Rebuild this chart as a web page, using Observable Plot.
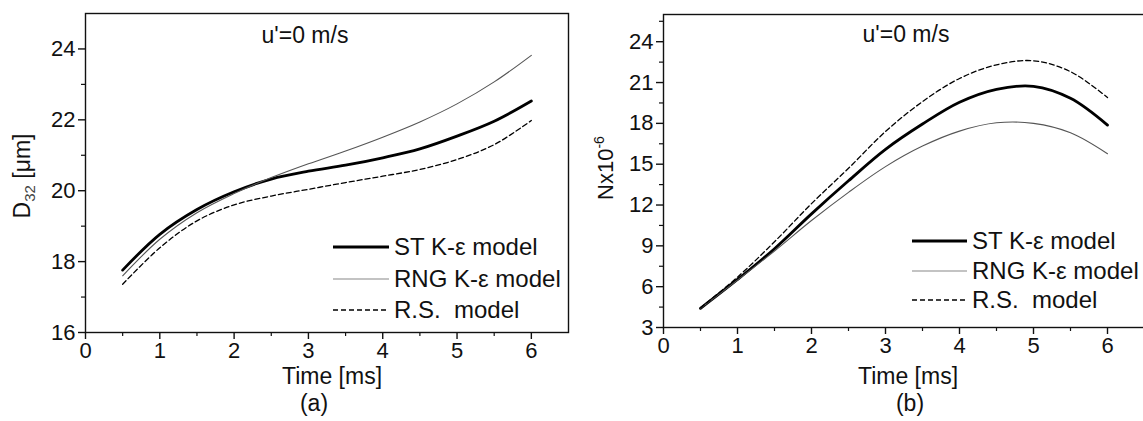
<!DOCTYPE html>
<html><head><meta charset="utf-8">
<script src="https://cdn.jsdelivr.net/npm/d3@7"></script>
<script src="https://cdn.jsdelivr.net/npm/@observablehq/plot@0.6"></script>
<style>
html,body{margin:0;padding:0;background:#fff;overflow:hidden;width:1143px;height:421px}
#wrap{position:relative;width:1143px;height:421px;overflow:hidden}
#wrap svg{position:absolute;top:0}
</style></head><body><div id="wrap"></div>
<script>
// ---- data ----
const timeMs = [0.5, 1, 1.5, 2, 2.5, 3, 3.5, 4, 4.5, 5, 5.5, 6];
// panel (a): D32 [um]
const d32ST  = [17.76, 18.77, 19.47, 19.97, 20.33, 20.55, 20.72, 20.93, 21.18, 21.54, 21.96, 22.53];
const d32RNG = [17.60, 18.63, 19.38, 19.92, 20.37, 20.76, 21.12, 21.51, 21.94, 22.45, 23.07, 23.82];
const d32RS  = [17.36, 18.39, 19.15, 19.60, 19.85, 20.04, 20.23, 20.41, 20.60, 20.88, 21.30, 21.98];
// panel (b): N x 10^-6
const nST  = [4.41, 6.53, 8.79, 11.35, 13.78, 16.09, 17.95, 19.55, 20.50, 20.72, 19.84, 17.87];
const nRNG = [4.41, 6.48, 8.62, 10.86, 12.93, 14.82, 16.33, 17.43, 18.04, 18.00, 17.31, 15.77];
const nRS  = [4.45, 6.70, 9.30, 12.10, 14.70, 17.40, 19.60, 21.30, 22.30, 22.60, 21.80, 19.90];

const modelNames = ["ST K-\u03b5 model", "RNG K-\u03b5 model", "R.S.  model"];
const xMajorTicks = [0, 1, 2, 3, 4, 5, 6];
const xMinorTicks = [0.5, 1.5, 2.5, 3.5, 4.5, 5.5];
const yTicksA = [16, 18, 20, 22, 24];
const yMinorA = [17, 19, 21, 23];
const yTicksB = [3, 6, 9, 12, 15, 18, 21, 24];
const yMinorB = [4.5, 7.5, 10.5, 13.5, 16.5, 19.5, 22.5, 25.5];

const FONT = "'Liberation Sans', Arial, Helvetica, sans-serif";
const INK = "#111";
const styles = [
  {stroke: "#000", strokeWidth: 2.8},
  {stroke: "#555", strokeWidth: 1.1},
  {stroke: "#000", strokeWidth: 1.3, strokeDasharray: "5,3"}
];

const rows = (ys) => timeMs.map((t, i) => ({t, v: ys[i]}));

function makePanel(cfg) {
  const svg = Plot.plot({
    width: cfg.width, height: 421,
    marginLeft: cfg.ml, marginRight: cfg.mr, marginTop: cfg.mt, marginBottom: cfg.mb,
    x: {domain: [0, 6.5]},
    y: {domain: cfg.yDomain},
    style: {fontFamily: FONT, fontSize: "22px", color: INK, background: "transparent", overflow: "visible"},
    marks: [
      Plot.axisX(xMajorTicks, {tickSize: 7, tickPadding: 3, strokeWidth: 1.4, fontSize: 22, label: null}),
      Plot.axisX(xMinorTicks, {tickSize: 4, strokeWidth: 1.2, tickFormat: () => "", label: null}),
      Plot.axisY(cfg.yTicks, {tickSize: 7, tickPadding: 3, strokeWidth: 1.4, fontSize: 22, label: null}),
      Plot.axisY(cfg.yMinor, {tickSize: 4, strokeWidth: 1.2, tickFormat: () => "", label: null}),
      ...cfg.series.map((ys, i) => Plot.line(rows(ys), {x: "t", y: "v", curve: "catmull-rom", ...styles[i]})),
      Plot.frame({stroke: INK, strokeWidth: 1.4})
    ]
  });
  svg.style.left = cfg.left + "px";
  const s = d3.select(svg);
  const txt = (x, y, str, size, anchor = "middle") =>
    s.append("text").attr("x", x).attr("y", y).attr("text-anchor", anchor)
      .attr("font-family", FONT).attr("font-size", size).attr("fill", INK).text(str);
  txt(cfg.titleX, cfg.titleY, "u'=0 m/s", 23);
  txt(cfg.timeX, 384, "Time [ms]", 23);
  txt(cfg.tagX, 411, cfg.tag, 23);
  const yl = s.append("text").attr("transform", `translate(${cfg.ylX},${cfg.ylY}) rotate(-90)`)
    .attr("text-anchor", "middle").attr("font-family", FONT).attr("font-size", cfg.ylSize).attr("fill", INK);
  cfg.yLabel(yl);
  const lg = s.append("g");
  modelNames.forEach((name, i) => {
    const y = cfg.legY[i];
    lg.append("line").attr("x1", cfg.legX1).attr("x2", cfg.legX2).attr("y1", y).attr("y2", y)
      .attr("stroke", i === 1 ? "#888" : styles[i].stroke).attr("stroke-width", styles[i].strokeWidth)
      .attr("stroke-dasharray", styles[i].strokeDasharray || null);
    lg.append("text").attr("x", cfg.legTextX).attr("y", y + 8).attr("text-anchor", "start")
      .attr("font-family", FONT).attr("font-size", 24).attr("fill", INK)
      .style("white-space", "pre").text(name);
  });
  document.getElementById("wrap").appendChild(svg);
}

makePanel({
  left: 0, width: 580, ml: 85, mr: 12, mt: 13, mb: 89,
  yDomain: [16, 25], yTicks: yTicksA, yMinor: yMinorA,
  series: [d32ST, d32RNG, d32RS],
  titleX: 305, titleY: 43, timeX: 332, tagX: 314, tag: "(a)",
  ylX: 30, ylY: 176, ylSize: 23,
  yLabel: (t) => { t.append("tspan").text("D");
    t.append("tspan").attr("font-size", 15).attr("dy", 5).attr("fill", "#444").text("32");
    t.append("tspan").attr("dy", -5).text(" [\u03bcm]"); },
  legX1: 333, legX2: 389, legTextX: 394, legY: [247, 279, 310]
});

makePanel({
  left: 580, width: 570, ml: 83, mr: 6, mt: 14, mb: 94,
  yDomain: [3, 26], yTicks: yTicksB, yMinor: yMinorB,
  series: [nST, nRNG, nRS],
  titleX: 326, titleY: 42, timeX: 328, tagX: 330, tag: "(b)",
  ylX: 33, ylY: 168, ylSize: 22,
  yLabel: (t) => { t.append("tspan").text("Nx10");
    t.append("tspan").attr("font-size", 14).attr("dy", -9).text("-6"); },
  legX1: 332, legX2: 387, legTextX: 392, legY: [241, 271, 300]
});
</script></body></html>
